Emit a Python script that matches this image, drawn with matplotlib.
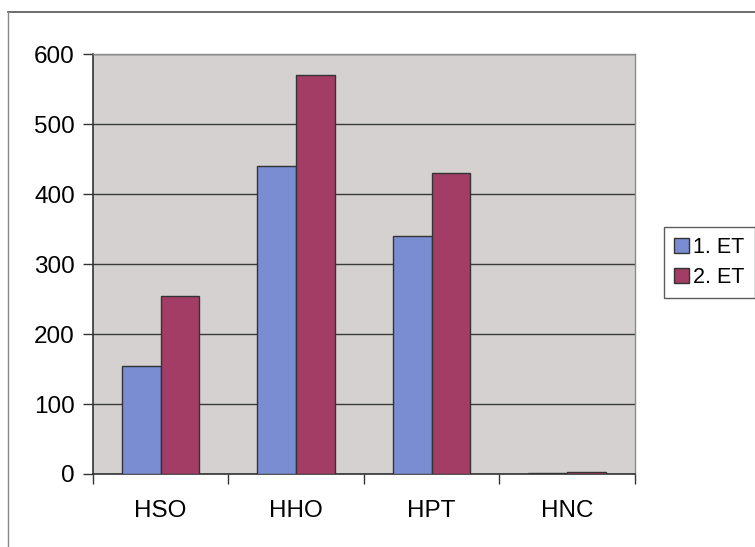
import matplotlib

matplotlib.use("Agg")

import matplotlib.pyplot as plt
from matplotlib.lines import Line2D
from matplotlib.patches import Patch

plt.rcParams["font.family"] = ["Liberation Sans", "DejaVu Sans"]

categories = ["HSO", "HHO", "HPT", "HNC"]
series_names = ["1. ET", "2. ET"]
et1_values = [155, 440, 340, 2]
et2_values = [255, 570, 430, 3]
y_ticks = [0, 100, 200, 300, 400, 500, 600]

BLUE = "#7b8dd2"
RED = "#a33d66"
PLOT_BG = "#d4d1d0"

fig = plt.figure(figsize=(7.55, 5.47), dpi=100)
ax = fig.add_axes([0.123, 0.1335, 0.718, 0.7675])
ax.set_facecolor(PLOT_BG)

width = 1 / 3.5
x = list(range(len(categories)))
ax.bar([i - width / 2 for i in x], et1_values, width=width, color=BLUE,
       edgecolor="#333333", linewidth=1.0, label=series_names[0], zorder=3)
ax.bar([i + width / 2 for i in x], et2_values, width=width, color=RED,
       edgecolor="#333333", linewidth=1.0, label=series_names[1], zorder=3)

ax.set_xlim(-0.5, len(categories) - 0.5)
ax.set_ylim(0, 600)
ax.set_yticks(y_ticks)
ax.yaxis.grid(True, color="#3a3a3a", linewidth=1.0, zorder=1)

ax.set_xticks(x)
ax.set_xticklabels(categories)
ax.set_xticks([i - 0.5 for i in range(len(categories) + 1)], minor=True)
ax.tick_params(axis="x", which="major", length=0, pad=19, labelsize=17.5)
ax.tick_params(axis="x", which="minor", length=7, width=1.0, color="#333333")
ax.tick_params(axis="y", length=7, width=1.0, color="#333333", labelsize=17.5, pad=6)

for side in ["left", "bottom"]:
    ax.spines[side].set_color("#333333")
    ax.spines[side].set_linewidth(1.2)
for side in ["top", "right"]:
    ax.spines[side].set_color("#8a8a8a")
    ax.spines[side].set_linewidth(1.0)

handles = [Patch(facecolor=BLUE, edgecolor="#333333", label=series_names[0]),
           Patch(facecolor=RED, edgecolor="#333333", label=series_names[1])]
leg = fig.legend(handles=handles, loc="center left", bbox_to_anchor=(0.880, 0.52),
                 fontsize=15.5, fancybox=False, frameon=True, handlelength=0.7,
                 handleheight=0.7, handletextpad=0.2, borderpad=0.45,
                 labelspacing=0.45, borderaxespad=0)
leg.get_frame().set_edgecolor("#333333")
leg.get_frame().set_linewidth(1.0)

# chart area border (top and left edges visible in the scan)
fig.add_artist(Line2D([8 / 755, 1.0], [1 - 12 / 547, 1 - 12 / 547],
                      transform=fig.transFigure, color="#555555", linewidth=1.2))
fig.add_artist(Line2D([8 / 755, 8 / 755], [0.0, 1 - 12 / 547],
                      transform=fig.transFigure, color="#888888", linewidth=1.0))

fig.savefig("out.png", dpi=100)
plt.close(fig)
